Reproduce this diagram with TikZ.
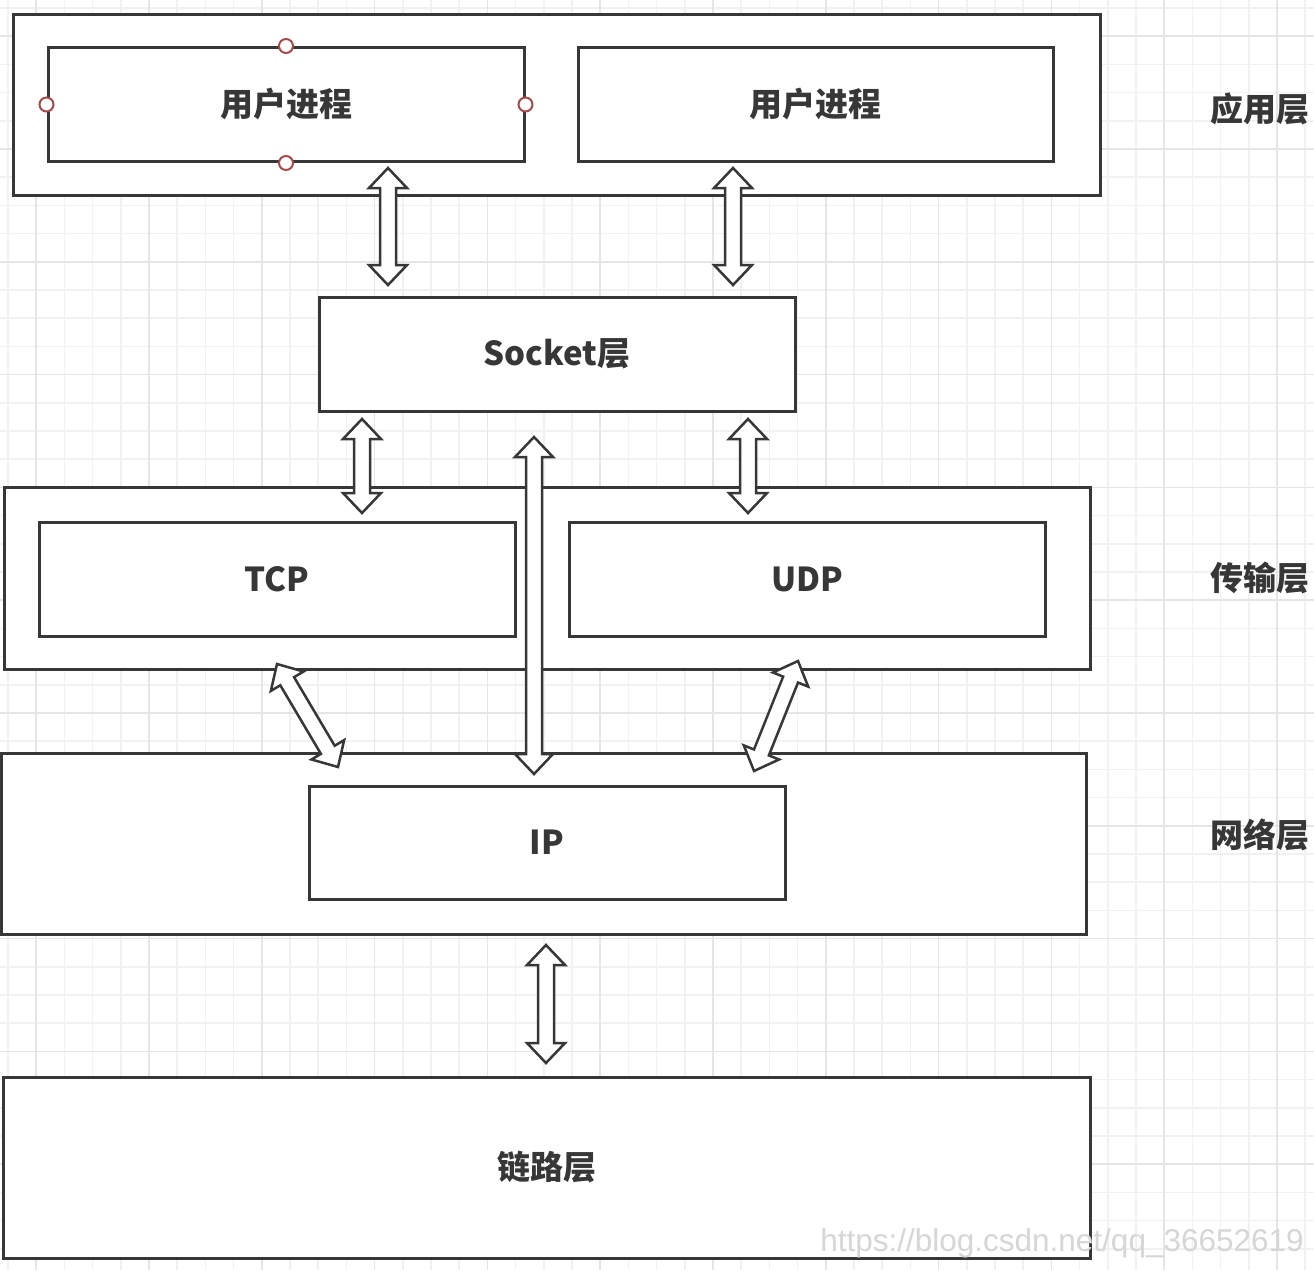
\documentclass[tikz,border=0pt]{standalone}
\usepackage{fontspec}
\setmainfont{Noto Sans CJK SC}
\newfontfamily\markfont{Liberation Sans}
\usepackage{tikz}
\usetikzlibrary{calc}
\definecolor{ink}{RGB}{55,55,55}
\definecolor{gridc}{RGB}{241,241,241}
\definecolor{gridm}{RGB}{229,229,229}
\definecolor{handle}{RGB}{165,75,75}
\definecolor{mark}{RGB}{214,214,214}
\newcommand{\flexarrow}[2]{%
  \draw[flex] let \p1=($(#1)!20pt!(#2)$), \p2=($(#2)!20pt!(#1)$) in
    (#1) -- ($(\p1)!19pt!90:(#2)$) -- ($(\p1)!8pt!90:(#2)$)
    -- ($(\p2)!8pt!-90:(#1)$) -- ($(\p2)!19pt!-90:(#1)$) -- (#2)
    -- ($(\p2)!19pt!90:(#1)$) -- ($(\p2)!8pt!90:(#1)$)
    -- ($(\p1)!8pt!-90:(#2)$) -- ($(\p1)!19pt!-90:(#2)$) -- cycle;}

\begin{document}
\begin{tikzpicture}[x=1pt,y=-1pt,
    box/.style={draw=ink,line width=3pt,fill=white,inner sep=0pt,minimum width=476pt,minimum height=114pt},
    layer/.style={box,minimum width=1087pt,minimum height=181pt},
    flex/.style={draw=ink,line width=2.5pt,fill=white,line join=miter},
    tag/.style={anchor=west},
    hdl/.style={circle,draw=handle,fill=white,line width=2pt,minimum size=14pt,inner sep=0pt},
    font=\fontsize{33}{40}\selectfont\bfseries,text=ink]
      \fill[white] (0,0) rectangle (1314,1270);
      \useasboundingbox (0,0) rectangle (1314,1270);
      \foreach \i in {0,...,46} \draw[gridc,line width=1.5pt] ({8+28.2*\i},0) -- ({8+28.2*\i},1270);
      \foreach \i in {0,...,44} \draw[gridc,line width=1.5pt] (0,{8+28.2*\i}) -- (1314,{8+28.2*\i});
      \foreach \i in {1,5,...,45} \draw[gridm,line width=1.5pt] ({8+28.2*\i},0) -- ({8+28.2*\i},1270);
      \foreach \i in {1,5,...,41} \draw[gridm,line width=1.5pt] (0,{8+28.2*\i}) -- (1314,{8+28.2*\i});

      \node[layer] (1) at (556.5,104.5) {};
      \node[box] (2) at (286,104.5) {用户进程};
      \node[box,minimum width=475pt] (3) at (815.5,104.5) {用户进程};
      \node[box] (4) at (557,354) {Socket层};
      \node[layer,minimum width=1086pt,minimum height=182pt] (5) at (547,578) {};
      \node[box] (6) at (277,579) {TCP};
      \node[box] (7) at (807,579) {UDP};
      \node[layer,minimum width=1085pt] (8) at (543.5,843.5) {};
      \node[box,minimum height=113pt] (9) at (547,842.5) {IP};
      \node[layer] (10) at (546.5,1167.5) {链路层};

      \node[tag] (11) at (1207,109) {应用层};
      \node[tag] (12) at (1207,578) {传输层};
      \node[tag] (13) at (1207,835) {网络层};

      \node[hdl] (h1) at (2.north) {};
      \node[hdl] (h2) at (2.south) {};
      \node[hdl] (h3) at (2.west) {};
      \node[hdl] (h4) at (2.east) {};

      \coordinate (a1) at (388,168);  \coordinate (b1) at (388,285);
      \coordinate (a2) at (733,168);  \coordinate (b2) at (733,285);
      \coordinate (a3) at (362,419);  \coordinate (b3) at (362,513);
      \coordinate (a4) at (748,419);  \coordinate (b4) at (748,513);
      \coordinate (a5) at (534,437);  \coordinate (b5) at (534,774);
      \coordinate (a6) at (277,664);  \coordinate (b6) at (338,767);
      \coordinate (a7) at (798,661);  \coordinate (b7) at (754,771);
      \coordinate (a8) at (546,945);  \coordinate (b8) at (546,1063);

      \flexarrow{a1}{b1}
      \flexarrow{a2}{b2}
      \flexarrow{a3}{b3}
      \flexarrow{a4}{b4}
      \flexarrow{a5}{b5}
      \flexarrow{a6}{b6}
      \flexarrow{a7}{b7}
      \flexarrow{a8}{b8}

      \node[font=\markfont\fontsize{31.5}{36}\selectfont,text=mark] (14) at (1062,1243) {https://blog.csdn.net/qq\_36652619};
    \end{tikzpicture}
\end{document}
